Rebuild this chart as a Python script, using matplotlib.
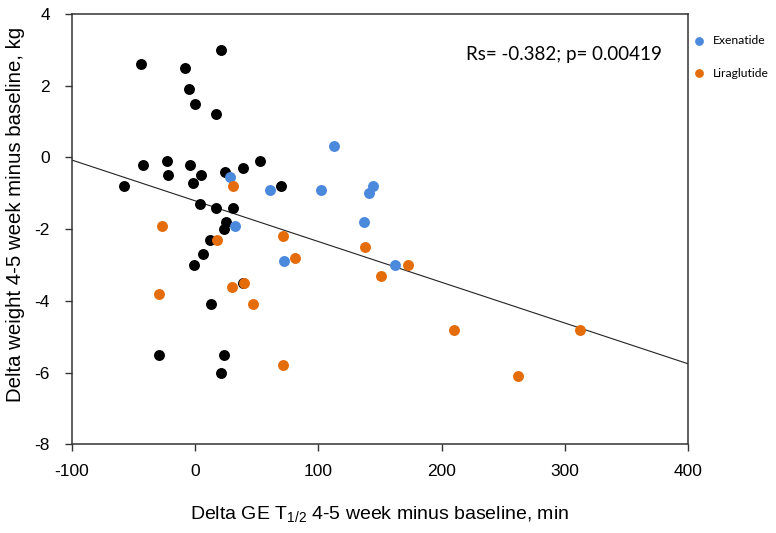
import numpy as np
import matplotlib
matplotlib.use('Agg')
import matplotlib.pyplot as plt

# untreated / all subjects (black)
black_x = [21, -44, -8, -5, 0, 17, -42, -23, -4, -22, 5, -2, 24, 39, 53, 70, -58,
           4, 17, 31, 25, 23, 12, 6, -1, 39, 13, -29, 23, 21]
black_y = [3.0, 2.6, 2.5, 1.9, 1.5, 1.2, -0.2, -0.1, -0.2, -0.5, -0.5, -0.7, -0.4, -0.3, -0.1, -0.8, -0.8,
           -1.3, -1.4, -1.4, -1.8, -2.0, -2.3, -2.7, -3.0, -3.5, -4.1, -5.5, -5.5, -6.0]

exenatide_x = [28, 61, 32, 72, 113, 102, 144, 141, 137, 162]
exenatide_y = [-0.55, -0.9, -1.9, -2.9, 0.33, -0.9, -0.8, -1.0, -1.8, -3.0]

liraglutide_x = [31, -27, 71, 18, 81, 30, 40, -29, 47, 71, 138, 173, 151, 210, 312, 262]
liraglutide_y = [-0.8, -1.9, -2.2, -2.3, -2.8, -3.6, -3.5, -3.8, -4.1, -5.8, -2.5, -3.0, -3.3, -4.8, -4.8, -6.1]

# regression line (slope, intercept) as drawn on the original
fit_slope = -0.01136
fit_intercept = -1.21

x_ticks = [-100, 0, 100, 200, 300, 400]
y_ticks = [-8, -6, -4, -2, 0, 2, 4]

plt.rcParams['font.family'] = ['Liberation Sans', 'DejaVu Sans']
plt.rcParams['mathtext.default'] = 'regular'
plt.rcParams['axes.unicode_minus'] = False

fig = plt.figure(figsize=(7.76, 5.33), dpi=100)
ax = fig.add_axes([72 / 776, 1 - 444.3 / 533, (688 - 72) / 776, (444.3 - 14) / 533])

ax.scatter(black_x, black_y, s=62, color='black', linewidths=0, zorder=3)
ax.scatter(exenatide_x, exenatide_y, s=62, color='#4a89dc', linewidths=0, zorder=4, label='Exenatide')
ax.scatter(liraglutide_x, liraglutide_y, s=62, color='#e46c0a', linewidths=0, zorder=5, label='Liraglutide')

fx = np.array([-100, 400])
ax.plot(fx, fit_intercept + fit_slope * fx, color='#222222', linewidth=0.8, zorder=2)

ax.set_xlim(-100, 400)
ax.set_ylim(-8, 4)
ax.set_xticks(x_ticks)
ax.set_yticks(y_ticks)
ax.tick_params(direction='out', length=5, width=1, labelsize=12.5, color='#333333')
ax.tick_params(axis='x', pad=9)
ax.tick_params(axis='y', pad=11)
for sp in ax.spines.values():
    sp.set_color('#333333')
    sp.set_linewidth(1.1)

ax.set_xlabel('Delta GE T$_{1/2}$ 4-5 week minus baseline, min', fontsize=14, labelpad=18)
ax.set_ylabel('Delta weight 4-5 week minus baseline, kg', fontsize=14.7)
ax.yaxis.set_label_coords(-0.077, 0.535)

ax.text(0.958, 0.905, 'Rs= -0.382; p= 0.00419', transform=ax.transAxes, ha='right', va='center',
        fontsize=13.5, family=['Lato', 'DejaVu Sans'])

ax.legend(loc='upper left', bbox_to_anchor=(0.985, 0.97), frameon=False,
          prop={'family': ['Lato', 'DejaVu Sans'], 'size': 8.7},
          handletextpad=0.1, labelspacing=1.75, markerscale=0.8, borderaxespad=0.3)

fig.savefig('out.png', dpi=100)
